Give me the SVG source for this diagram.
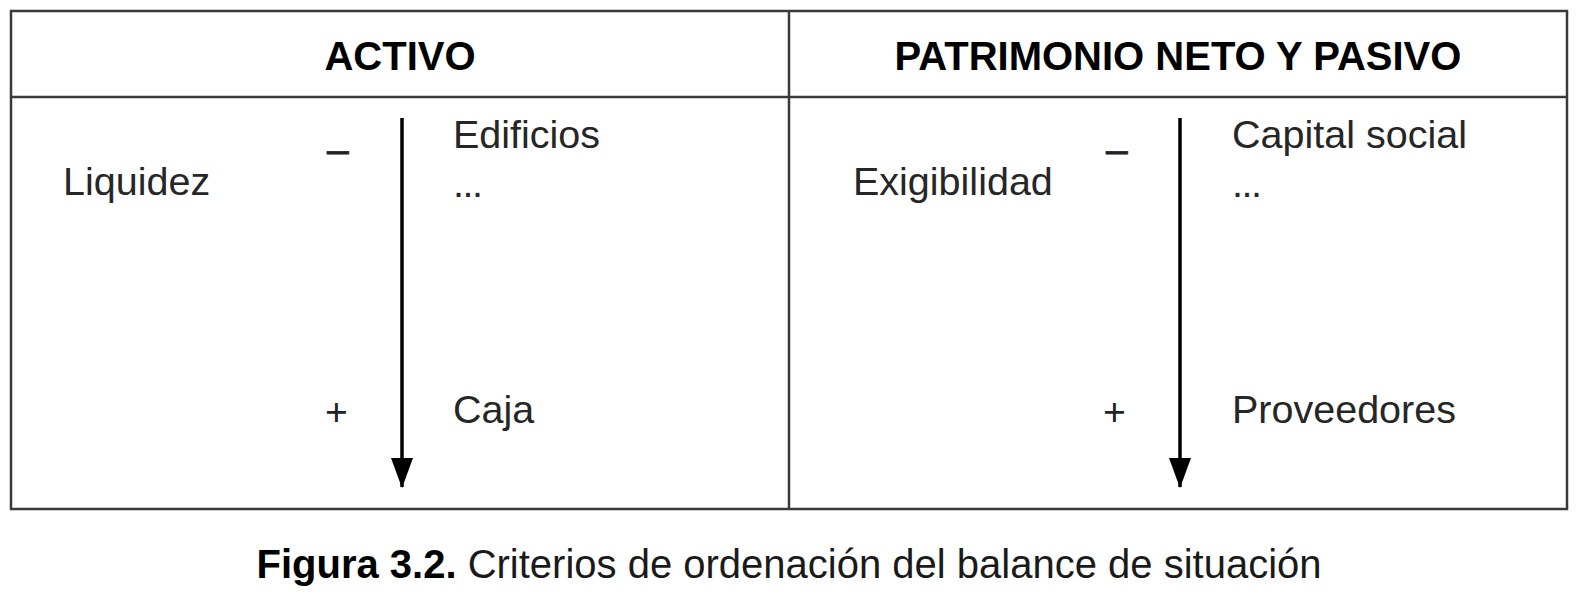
<svg xmlns="http://www.w3.org/2000/svg" width="1584" height="598" viewBox="0 0 1584 598">
  <style>
    .frame { fill: #ffffff; stroke: #3a3a3a; stroke-width: 2.5; }
    .rule { stroke: #3a3a3a; stroke-width: 2.5; }
    .head { font-family: "Liberation Sans", Arial, sans-serif; font-weight: bold; font-size: 40px; fill: #000; text-anchor: middle; }
    .body { font-family: "Liberation Sans", Arial, sans-serif; font-size: 39.5px; fill: #262626; }
    .sign { font-family: "Liberation Sans", Arial, sans-serif; font-size: 39px; fill: #222; }
    .cap { font-family: "Liberation Sans", Arial, sans-serif; font-size: 40px; fill: #1a1a1a; text-anchor: middle; }
    .arrow { stroke: #000; stroke-width: 3.5; fill: none; }
  </style>
  <defs>
    <marker id="ah" markerUnits="userSpaceOnUse" markerWidth="30" markerHeight="22" refX="29" refY="11" orient="auto" viewBox="0 0 30 22">
      <path d="M0,0 L30,11 L0,22 Z" fill="#000"/>
    </marker>
  </defs>
  <rect x="0" y="0" width="1584" height="598" fill="#ffffff"/>
  <g id="table">
    <rect class="frame" x="11" y="11" width="1556" height="498"/>
    <line class="rule" x1="11" y1="97" x2="1567" y2="97"/>
    <line class="rule" x1="789" y1="11" x2="789" y2="509"/>
  </g>
  <g id="activo-header">
    <text class="head" x="400" y="70">ACTIVO</text>
  </g>
  <g id="pasivo-header">
    <text class="head" x="1178" y="70">PATRIMONIO NETO Y PASIVO</text>
  </g>
  <g id="activo">
    <text class="body" x="63" y="195">Liquidez</text>
    <text class="sign" x="327" y="163" stroke="#222" stroke-width="0.8">–</text>
    <text class="sign" x="325" y="425">+</text>
    <text class="body" x="453" y="148">Edificios</text>
    <text class="body" x="453" y="197" letter-spacing="-1.5">...</text>
    <text class="body" x="453" y="423">Caja</text>
  </g>
  <g id="pasivo">
    <text class="body" x="853" y="195">Exigibilidad</text>
    <text class="sign" x="1106" y="163" stroke="#222" stroke-width="0.8">–</text>
    <text class="sign" x="1103" y="425">+</text>
    <text class="body" x="1232" y="148">Capital social</text>
    <text class="body" x="1232" y="197" letter-spacing="-1.5">...</text>
    <text class="body" x="1232" y="423">Proveedores</text>
  </g>
  <g id="connectors">
    <line class="arrow" x1="402" y1="118" x2="402" y2="487" marker-end="url(#ah)"/>
    <line class="arrow" x1="1180" y1="118" x2="1180" y2="487" marker-end="url(#ah)"/>
  </g>
  <g id="caption">
    <text class="cap" x="789" y="578"><tspan font-weight="bold" fill="#000">Figura 3.2.</tspan> Criterios de ordenación del balance de situación</text>
  </g>
</svg>
